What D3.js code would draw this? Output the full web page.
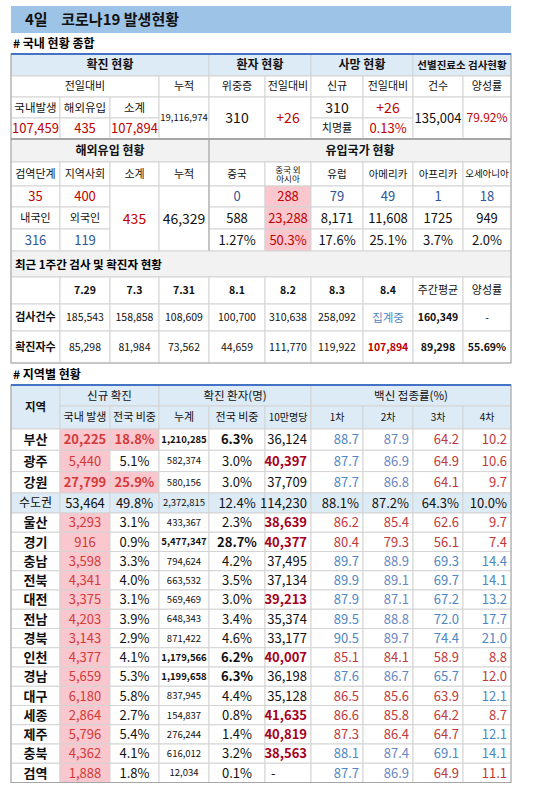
<!DOCTYPE html>
<html><head><meta charset="utf-8">
<script src="https://cdn.jsdelivr.net/npm/d3@7"></script>
<style>body{margin:0;background:#fff}text{font-family:"Noto Sans CJK KR","Noto Sans",sans-serif}</style>
</head><body><div id="chart"></div>
<script>
// ---- data ----
var dailyLabels = ["국내발생", "해외유입", "소계"];
var dailyCases = [107459, 435, 107894];
var cumulativeTotal = 19116974;
var critical = 310, criticalDiff = "+26";
var deaths = 310, deathsDiff = "+26", fatality = "0.13%";
var screeningTests = 135004, screeningRate = "79.92%";

var importLabels = ["검역단계", "지역사회"];
var importToday = [35, 400];
var importNation = ["내국인", "외국인"];
var importNationVals = [316, 119];
var importSubtotal = 435, importCumulative = 46329;
var originNames = ["중국", "중국 외|아시아", "유럽", "아메리카", "아프리카", "오세아니아"];
var originToday = [0, 288, 79, 49, 1, 18];
var originCumulative = ["588", "23,288", "8,171", "11,608", "1725", "949"];
var originShare = ["1.27%", "50.3%", "17.6%", "25.1%", "3.7%", "2.0%"];

var weekDates = ["7.29", "7.3", "7.31", "8.1", "8.2", "8.3", "8.4"];
var weekTests = [185543, 158858, 108609, 100700, 310638, 258092, null];
var weekCases = [85298, 81984, 73562, 44659, 111770, 119922, 107894];
var weekAvgTests = 160349, weekAvgCases = 89298, weekPositivity = "55.69%";

var regions = ["부산","광주","강원","수도권","울산","경기","충남","전북","대전","전남","경북","인천","경남","대구","세종","제주","충북","검역"];
var domestic = [20225,5440,27799,53464,3293,916,3598,4341,3375,4203,3143,4377,5659,6180,2864,5796,4362,1888];
var share = [18.8,5.1,25.9,49.8,3.1,0.9,3.3,4.0,3.1,3.9,2.9,4.1,5.3,5.8,2.7,5.4,4.1,1.8];
var cumulative = [1210285,582374,580156,2372815,433367,5477347,794624,663532,569469,648343,871422,1179566,1199658,837945,154837,276244,616012,12034];
var cumShare = [6.3,3.0,3.0,12.4,2.3,28.7,4.2,3.5,3.0,3.4,4.6,6.2,6.3,4.4,0.8,1.4,3.2,0.1];
var per100k = [36124,40397,37709,114230,38639,40377,37495,37134,39213,35374,33177,40007,36198,35128,41635,40819,38563,null];
var dose1 = [88.7,87.7,87.7,88.1,86.2,80.4,89.7,89.9,87.9,89.5,90.5,85.1,87.6,86.5,86.6,87.3,88.1,87.7];
var dose2 = [87.9,86.9,86.8,87.2,85.4,79.3,88.9,89.1,87.1,88.8,89.7,84.1,86.7,85.6,85.8,86.4,87.4,86.9];
var dose3 = [64.2,64.9,64.1,64.3,62.6,56.1,69.3,69.7,67.2,72.0,74.4,58.9,65.7,63.9,64.2,64.7,69.1,64.9];
var dose4 = [10.2,10.6,9.7,10.0,9.7,7.4,14.4,14.1,13.2,17.7,21.0,8.8,12.0,12.1,8.7,12.1,14.1,11.1];
var doseAvg = [87.5, 86.5, 65.3, 12.05];

// ---- layout ----
var W = 550, H = 795;
var colEdges = [11, 60, 110, 159, 209, 265, 311, 363, 413, 463, 511];
var x = d3.scaleOrdinal().domain(d3.range(11)).range(colEdges);
var fmt = d3.format(",");
var C = {blue: "#9dc3e6", head: "#ddebf7", gray: "#f2f2f2", pink: "#f9c7cd", red: "#c00000",
  red2: "#d23a3a", dred: "#a50021", vblue: "#4f87c4", vblue2: "#6b86c0", vred: "#c0393b", nblue: "#2f5597", line: "#d4d4d4"};

var svg = d3.select("#chart").append("svg").attr("width", W).attr("height", H);

function cell(c0, c1, y0, y1, txt, o) {
  o = o || {};
  var x0 = x(c0), x1 = x(c1);
  svg.append("rect").attr("x", x0).attr("y", y0).attr("width", x1 - x0).attr("height", y1 - y0)
    .attr("fill", o.fill || "#fff").attr("stroke", C.line).attr("stroke-width", 1);
  if (txt === null || txt === undefined) return;
  var lines = String(txt).split("|");
  var fs = o.size || 12;
  var lh = o.lh || 1.15;
  var anchor = o.align || "middle";
  var tx = anchor === "middle" ? (x0 + x1) / 2 : anchor === "end" ? x1 - 4 : x0 + 6;
  var t = svg.append("text").attr("x", tx).attr("text-anchor", anchor)
    .attr("font-size", fs).attr("font-weight", o.bold ? "bold" : "normal")
    .attr("fill", o.color || "#111");
  lines.forEach(function (l, i) {
    t.append("tspan").attr("x", tx)
      .attr("y", (y0 + y1) / 2 + fs * 0.36 + (i - (lines.length - 1) / 2) * fs * lh).text(l);
  });
}
function hline(y, color, w) {
  svg.append("line").attr("x1", x(0)).attr("x2", x(10)).attr("y1", y).attr("y2", y)
    .attr("stroke", color).attr("stroke-width", w);
}

// title
svg.append("rect").attr("x", 11).attr("y", 6).attr("width", 500).attr("height", 27).attr("fill", C.blue);
svg.append("text").attr("x", 25).attr("y", 25).attr("font-size", 15).attr("font-weight", "bold").attr("fill", "#111")
  .text("4일\u00a0\u00a0\u00a0 코로나19 발생현황");
svg.append("text").attr("x", 13).attr("y", 48).attr("font-size", 12).attr("font-weight", "bold").text("# 국내 현황 종합");

// ---- section 1 ----
var r1 = [54, 76, 97, 118, 139];
cell(0, 4, r1[0], r1[1], "확진 현황", {fill: C.head, bold: true});
cell(4, 6, r1[0], r1[1], "환자 현황", {fill: C.head, bold: true});
cell(6, 8, r1[0], r1[1], "사망 현황", {fill: C.head, bold: true});
cell(8, 10, r1[0], r1[1], "선별진료소 검사현황", {fill: C.head, bold: true, size: 10.5});
[["전일대비",0,3],["누적",3,4],["위중증",4,5],["전일대비",5,6],["신규",6,7],["전일대비",7,8],["건수",8,9],["양성률",9,10]]
  .forEach(function (d) { cell(d[1], d[2], r1[1], r1[2], d[0], {size: 11}); });
dailyLabels.forEach(function (l, i) {
  cell(i, i + 1, r1[2], r1[3], l, {size: 11.5});
  cell(i, i + 1, r1[3], r1[4], fmt(dailyCases[i]), {size: 13, color: C.red});
});
cell(3, 4, r1[2], r1[4], fmt(cumulativeTotal), {size: 9.5});
cell(4, 5, r1[2], r1[4], critical, {size: 14});
cell(5, 6, r1[2], r1[4], criticalDiff, {size: 14, color: C.red});
cell(6, 7, r1[2], r1[3], deaths, {size: 14});
cell(7, 8, r1[2], r1[3], deathsDiff, {size: 14, color: C.red});
cell(6, 7, r1[3], r1[4], "치명률", {size: 11});
cell(7, 8, r1[3], r1[4], fatality, {size: 13, color: C.red});
cell(8, 9, r1[2], r1[4], fmt(screeningTests), {size: 13});
cell(9, 10, r1[2], r1[4], screeningRate, {size: 12, color: C.red});

// ---- section 2 ----
var r2 = [139, 162, 186, 207, 229, 251];
cell(0, 4, r2[0], r2[1], "해외유입 현황", {fill: C.gray, bold: true});
cell(4, 10, r2[0], r2[1], "유입국가 현황", {fill: C.gray, bold: true});
importLabels.concat(["소계", "누적"]).forEach(function (l, i) { cell(i, i + 1, r2[1], r2[2], l, {size: 11}); });
originNames.forEach(function (l, i) {
  var two = l.indexOf("|") > 0;
  cell(i + 4, i + 5, r2[1], r2[2], l, {size: two ? 8.5 : (l.length > 4 ? 9.5 : 10.5), lh: 1.05});
});
importToday.forEach(function (v, i) { cell(i, i + 1, r2[2], r2[3], v, {size: 13, color: C.red}); });
importNation.forEach(function (v, i) { cell(i, i + 1, r2[3], r2[4], v, {size: 11}); });
importNationVals.forEach(function (v, i) { cell(i, i + 1, r2[4], r2[5], v, {size: 13, color: C.nblue}); });
cell(2, 3, r2[2], r2[5], importSubtotal, {size: 14, color: C.red});
cell(3, 4, r2[2], r2[5], fmt(importCumulative), {size: 14});
originToday.forEach(function (v, i) {
  var hi = i === 1;
  cell(i + 4, i + 5, r2[2], r2[3], v, {size: 13, color: hi ? C.red : C.nblue, fill: hi ? C.pink : "#fff"});
  cell(i + 4, i + 5, r2[3], r2[4], originCumulative[i], {size: 13, color: hi ? C.red : "#111", fill: hi ? C.pink : "#fff"});
  cell(i + 4, i + 5, r2[4], r2[5], originShare[i], {size: 13, color: hi ? C.red : "#111", fill: hi ? C.pink : "#fff"});
});
hline(139, "#a6a6a6", 2);
svg.append("line").attr("x1", x(4)).attr("x2", x(4)).attr("y1", r2[0]).attr("y2", r2[5]).attr("stroke", "#a6a6a6");

// ---- section 3: weekly ----
var r3 = [251, 277, 304, 331, 363];
svg.append("rect").attr("x", x(0)).attr("y", r3[0]).attr("width", x(10) - x(0)).attr("height", r3[1] - r3[0])
  .attr("fill", C.gray).attr("stroke", C.line);
svg.append("text").attr("x", x(0) + 4).attr("y", 269).attr("font-size", 11.5).attr("font-weight", "bold")
  .text("최근 1주간 검사 및 확진자 현황");
cell(0, 1, r3[1], r3[2], "");
weekDates.concat(["주간평균", "양성률"]).forEach(function (d, i) {
  cell(i + 1, i + 2, r3[1], r3[2], d, {size: i < 7 ? 10.5 : 11, bold: i < 7});
});
cell(0, 1, r3[2], r3[3], "검사건수", {size: 11, bold: true});
cell(0, 1, r3[3], r3[4], "확진자수", {size: 11, bold: true});
weekTests.forEach(function (v, i) {
  cell(i + 1, i + 2, r3[2], r3[3], v === null ? "집계중" : fmt(v), {size: v === null ? 11.5 : 10.5, color: v === null ? C.vblue : "#111"});
  var last = i === weekCases.length - 1;
  cell(i + 1, i + 2, r3[3], r3[4], fmt(weekCases[i]), {size: 10.5, color: last ? C.red : "#111", bold: last});
});
cell(8, 9, r3[2], r3[3], fmt(weekAvgTests), {size: 10.5, bold: true});
cell(9, 10, r3[2], r3[3], "-", {size: 10.5});
cell(8, 9, r3[3], r3[4], fmt(weekAvgCases), {size: 10.5, bold: true});
cell(9, 10, r3[3], r3[4], weekPositivity, {size: 10.5, bold: true});
svg.append("rect").attr("x", x(0)).attr("y", 54).attr("width", x(10) - x(0)).attr("height", r3[4] - 54)
  .attr("fill", "none").attr("stroke", "#a6a6a6");
hline(54, "#4472c4", 2);

// ---- section 4: regions ----
svg.append("text").attr("x", 13).attr("y", 379).attr("font-size", 12).attr("font-weight", "bold").text("# 지역별 현황");
var h0 = 385, h1 = 406, h2 = 429;
cell(0, 1, h0, h2, "지역", {fill: C.head, bold: true, size: 11.5});
cell(1, 3, h0, h1, "신규 확진", {fill: C.head, size: 11.5});
cell(3, 6, h0, h1, "확진 환자(명)", {fill: C.head, size: 11.5});
cell(6, 10, h0, h1, "백신 접종률(%)", {fill: C.head, size: 11.5});
["국내 발생", "전국 비중", "누계", "전국 비중", "10만명당", "1차", "2차", "3차", "4차"].forEach(function (l, i) {
  cell(i + 1, i + 2, h1, h2, l, {fill: C.head, size: i >= 4 ? 10 : 11});
});
var rowEdges = [429, 450.3, 471.6, 493, 513];
for (var k = 1; k <= 14; k++) rowEdges.push(513 + k * 19.25);
var doses = [dose1, dose2, dose3, dose4];
regions.forEach(function (r, i) {
  var y0 = rowEdges[i], y1 = rowEdges[i + 1];
  var metro = r === "수도권";
  var bg = metro ? C.head : "#fff";
  var big = share[i] > 10 && !metro;
  cell(0, 1, y0, y1, r, {fill: bg, bold: !metro, size: metro ? 12 : 13});
  cell(1, 2, y0, y1, fmt(domestic[i]), {fill: metro ? bg : C.pink, color: metro ? "#111" : C.red2, bold: big, size: 13});
  cell(2, 3, y0, y1, share[i].toFixed(1) + "%", {fill: big ? C.pink : bg, color: big ? C.red2 : "#111", bold: big, size: 13});
  var heavy = cumulative[i] > 1000000 && !metro;
  cell(3, 4, y0, y1, fmt(cumulative[i]), {fill: bg, bold: heavy, size: 9.5});
  cell(4, 5, y0, y1, cumShare[i].toFixed(1) + "%", {fill: bg, bold: heavy, size: 13});
  var p = per100k[i];
  var hot = p !== null && p > 38000 && !metro;
  cell(5, 6, y0, y1, p === null ? "-" : fmt(p), {fill: bg, align: p === null ? "start" : "end", color: hot ? C.dred : "#111", bold: hot, size: 13});
  doses.forEach(function (ds, j) {
    var v = ds[i];
    var col = metro ? "#111" : (v > doseAvg[j] ? (j === 1 ? C.vblue2 : C.vblue) : C.vred);
    cell(6 + j, 7 + j, y0, y1, metro ? v.toFixed(1) + "%" : v.toFixed(1), {fill: bg, align: "end", color: col, size: 13});
  });
});
svg.append("rect").attr("x", x(0)).attr("y", h0).attr("width", x(10) - x(0)).attr("height", rowEdges[18] - h0)
  .attr("fill", "none").attr("stroke", "#a6a6a6");
svg.append("line").attr("x1", x(0)).attr("x2", x(10)).attr("y1", h0).attr("y2", h0).attr("stroke", "#4472c4").attr("stroke-width", 2);
</script></body></html>
